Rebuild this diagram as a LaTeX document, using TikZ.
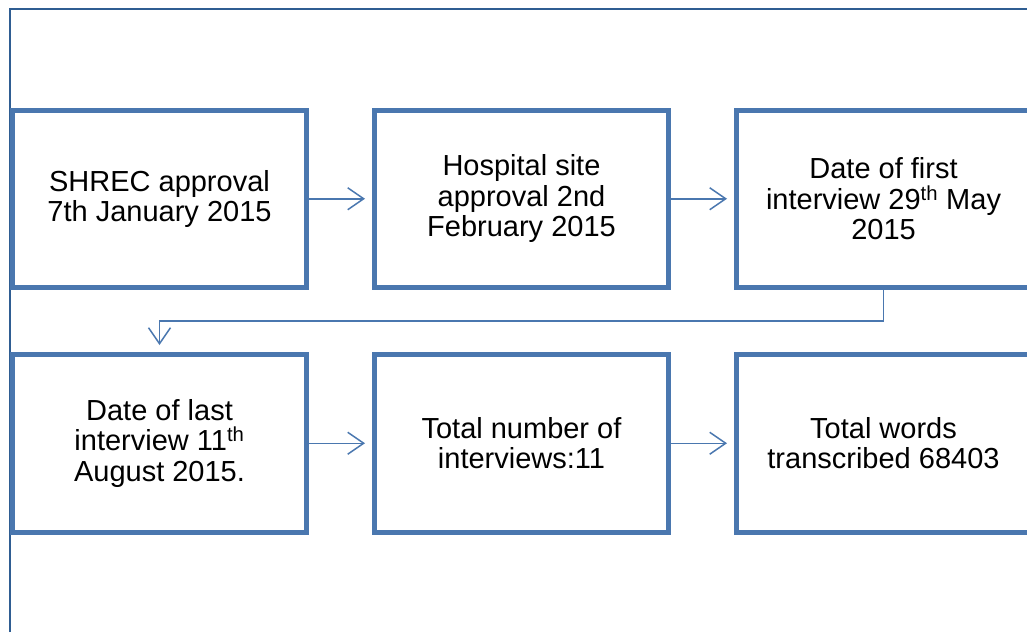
\documentclass[tikz,border=0pt]{standalone}
\usepackage{fontspec}
\setmainfont{Liberation Sans}
\usepackage{xcolor}
\usetikzlibrary{positioning,arrows.meta}
\definecolor{boxblue}{HTML}{4A77AF}
\definecolor{frameblue}{HTML}{2F5D92}

\begin{document}
\begin{tikzpicture}[x=1pt, y=-1pt, font=\fontsize{29}{30.5}\selectfont,
		stage/.style={draw=boxblue, line width=5pt, minimum width=294pt, minimum height=177.5pt, align=center, inner sep=0pt},
		link/.style={draw=boxblue, line width=1.5pt, -{Straight Barb[length=16pt, width=22pt, line width=1.5pt]}, shorten >=7pt}]
		\useasboundingbox (0,0) rectangle (1027,632);
		\clip (0,0) rectangle (1027,632);
		\draw[frameblue, line width=2pt] (10,632) -- (10,9) -- (1027,9);
		% first row
		\node[stage] (shrec) at (159.5,198.75) {SHREC approval\\7th January 2015};
		\node[stage, right=63pt of shrec] (site) {Hospital site\\approval 2nd\\February 2015};
		\node[stage, right=63pt of site] (first) {Date of first\\interview 29\textsuperscript{th} May\\2015};
		% second row
		\node[stage, below=62pt of shrec] (last) {Date of last\\interview 11\textsuperscript{th}\\August 2015.};
		\node[stage, right=63pt of last] (count) {Total number of\\interviews:11};
		\node[stage, right=63pt of count] (words) {Total words\\transcribed 68403};
		% connectors
		\draw[link] (shrec) -- (site);
		\draw[link] (site) -- (first);
		\draw[link] (first.south) -- ++(0,31) -| (last.north);
		\draw[link] (last) -- (count);
		\draw[link] (count) -- (words);
	\end{tikzpicture}
\end{document}
